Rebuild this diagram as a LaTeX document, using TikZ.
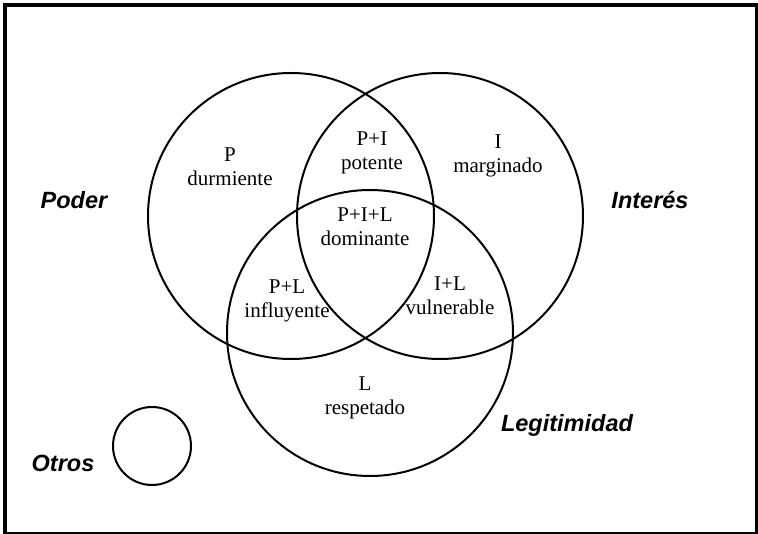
\documentclass[tikz,border=0pt]{standalone}
\usepackage{fontspec}
\setmainfont{Liberation Serif}
\setsansfont{Liberation Sans}
\usetikzlibrary{positioning}

\tikzset{
  venn/.style={draw, circle, line width=2pt, inner sep=0pt, minimum size=286pt},
  region/.style={align=center, font=\fontsize{21}{24}\selectfont},
  group/.style={font=\sffamily\bfseries\itshape\fontsize{23.5}{26}\selectfont}
}

\begin{document}
\begin{tikzpicture}[x=1pt,y=-1pt]

  \useasboundingbox (0,0) rectangle (758,534);
  \draw[line width=4pt] (5,5) rectangle (757,534);

  \node[venn]     (P) at (291,216) {};
  \node[venn]     (I) at (440,216) {};
  \node[venn]     (L) at (370,333) {};
  \node[venn, minimum size=78pt] (O) at (152,446) {};

  \node[region]   (p)   at (230,167) {P\\durmiente};
  \node[region]   (pi)  at (372,153) {P+I\\potente};
  \node[region]   (i)   at (498,156) {I\\marginado};
  \node[region]   (pil) at (365,227) {P+I+L\\dominante};
  \node[region]   (pl)  at (287,301) {P+L\\influyente};
  \node[region]   (il)  at (450,296) {I+L\\vulnerable};
  \node[region]   (l)   at (365,398) {L\\respetado};

  \node[group]    (poder)   at (74,200)  {Poder};
  \node[group]    (interes) at (650,200) {Interés};
  \node[group]    (legit)   at (567,425) {Legitimidad};
  \node[group]    (otros)   at (63,463)  {Otros};
\end{tikzpicture}
\end{document}
